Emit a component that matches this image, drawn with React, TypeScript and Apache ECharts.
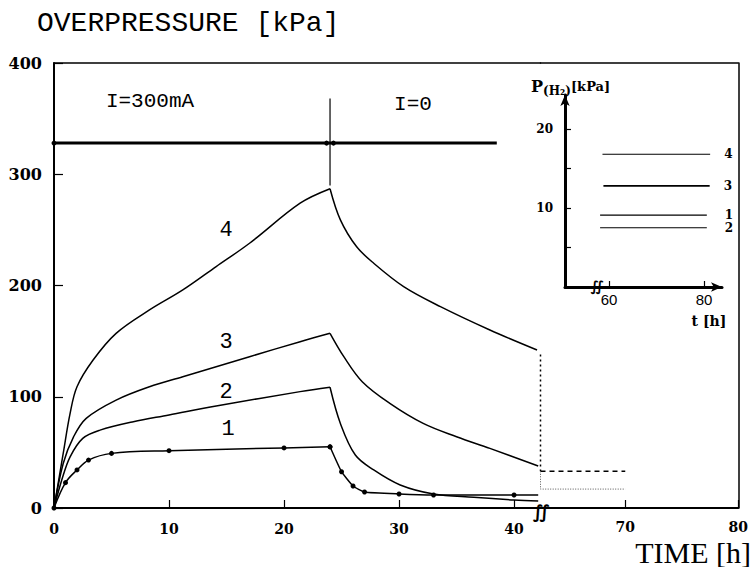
import React, { useEffect, useRef } from "react";
import * as echarts from "echarts";

// ---- data ----
const mainTicks = [0, 10, 20, 30, 40];
const farTicks = [70, 80];
const insetXTicks = [60, 80];
const insetYTicks = [5, 10, 15, 20];
const insetYLabels = [10, 20];

const curve1Rise: [number, number][] = [[0, 0], [1, 22.8], [2, 34.2], [3, 43.1], [5, 49.1], [10, 51.5], [20, 54], [24, 55]];
const curve1Decay: [number, number][] = [[24, 55], [25, 32.6], [26, 19.8], [27, 14.4], [30, 12.6], [33, 11.7], [40, 11.7], [42.1, 11.7]];

const curve2Rise: [number, number][] = [[0, 0], [0.7, 26], [1.4, 46], [2.5, 62.6], [4, 70], [6.9, 77.6], [10, 83.6], [14.1, 91.7], [21.4, 104.6], [24, 108.5]];
const curve2Decay: [number, number][] = [[24, 108.5], [24.9, 76], [26.2, 47.6], [27.8, 34.2], [30.1, 20.7], [33, 12.6], [36.5, 9.6], [40, 7.2], [42.1, 6.3]];

const curve3Rise: [number, number][] = [[0, 0], [0.8, 40], [1.7, 64], [2.8, 80.6], [5.4, 97], [8.3, 109], [11.2, 118], [14.1, 127], [17, 136], [21.4, 149.5], [24, 157]];
const curve3Decay: [number, number][] = [[24, 157], [25.2, 136], [26.8, 113.5], [29.2, 94], [32.1, 76], [35, 64], [37.9, 53.6], [42.1, 37.8]];

const curve4Rise: [number, number][] = [[0, 0], [0.8, 49], [1.4, 85], [2, 109], [3.4, 133], [5.4, 157], [8.3, 178], [11.2, 196], [14.1, 217], [17, 238], [21.4, 274], [24, 287]];
const curve4Decay: [number, number][] = [[24, 287], [24.9, 259], [26.3, 235], [27.8, 220], [30.4, 199], [33.6, 181], [37.9, 160], [42, 142]];

const currentBar: [number, number][] = [[0, 328], [23.7, 328], [24.3, 328], [38.5, 328]];
const switchLine: [number, number][] = [[24, 290], [24, 368]];

const dropLine: [number, number][] = [[62.5, 138], [62.5, 33]];
const longTermDashed: [number, number][] = [[62.5, 33], [70, 33]];
const longTermDotted: [number, number][] = [[62.5, 33], [62.5, 17], [70, 17]];

const inset4: [number, number][] = [[58.6, 16.8], [81.3, 16.8]];
const inset3: [number, number][] = [[58.8, 12.8], [81.2, 12.8]];
const inset1: [number, number][] = [[58.1, 9.1], [80.6, 9.1]];
const inset2: [number, number][] = [[58.1, 7.5], [80.6, 7.5]];

const BLACK = "#000";
const tickFont = { fontFamily: "DejaVu Serif", fontWeight: "bold" as const, fontSize: 14, color: BLACK };
const insetLabelFont = { fontFamily: "DejaVu Serif", fontWeight: "bold" as const, fontSize: 12, color: BLACK };

function line(data: [number, number][], xi: number, yi: number, extra: any = {}) {
  return {
    type: "line",
    xAxisIndex: xi,
    yAxisIndex: yi,
    data,
    symbol: "none",
    smooth: 0.35,
    lineStyle: { color: BLACK, width: 1.5 },
    silent: true,
    ...extra,
  };
}

export default function App() {
  const ref = useRef<HTMLDivElement>(null);
  useEffect(() => {
    if (!ref.current) return;
    const chart = echarts.init(ref.current, undefined, { renderer: "svg" });
    const dotStyle = { symbol: "circle", symbolSize: 5, itemStyle: { color: BLACK } };
    chart.setOption({
      animation: false,
      backgroundColor: "#fff",
      title: {
        text: "OVERPRESSURE [kPa]",
        left: 37,
        top: 9,
        padding: 0,
        textStyle: { fontFamily: "Liberation Mono", fontSize: 28, fontWeight: "normal", color: BLACK },
      },
      grid: [
        { left: 54, top: 63, width: 486.5, height: 445 },
        { left: 540.5, top: 63, width: 201.5, height: 445 },
        { left: 565, top: 95, width: 157, height: 192 },
      ],
      xAxis: [
        {
          gridIndex: 0, type: "value", min: 0, max: 42.3, position: "bottom",
          axisLine: { lineStyle: { color: BLACK, width: 2 } },
          axisTick: { inside: true, length: 8, customValues: mainTicks, lineStyle: { color: BLACK, width: 1.2 } },
          axisLabel: { customValues: mainTicks, margin: 14, ...tickFont },
          splitLine: { show: false },
        },
        {
          gridIndex: 0, type: "value", min: 0, max: 42.3, position: "top",
          axisLine: { lineStyle: { color: BLACK, width: 1.5 } },
          axisTick: { show: false }, axisLabel: { show: false }, splitLine: { show: false },
        },
        {
          gridIndex: 1, type: "value", min: 62.5, max: 80, position: "bottom",
          axisLine: { lineStyle: { color: BLACK, width: 2 } },
          axisTick: { inside: true, length: 8, customValues: farTicks, lineStyle: { color: BLACK, width: 1.2 } },
          axisLabel: { customValues: farTicks, margin: 12, ...tickFont },
          splitLine: { show: false },
        },
        {
          gridIndex: 1, type: "value", min: 62.5, max: 80, position: "top",
          axisLine: { lineStyle: { color: BLACK, width: 1.5 } },
          axisTick: { show: false }, axisLabel: { show: false }, splitLine: { show: false },
        },
        {
          gridIndex: 2, type: "value", min: 50.7, max: 83.8, position: "bottom",
          axisLine: { symbol: ["none", "arrow"], symbolSize: [7, 11], lineStyle: { color: BLACK, width: 3 } },
          axisTick: { inside: true, length: 6, customValues: insetXTicks, lineStyle: { color: BLACK, width: 1.2 } },
          axisLabel: { customValues: insetXTicks, margin: 5, fontFamily: "Liberation Sans", fontSize: 15, color: BLACK },
          splitLine: { show: false },
        },
      ],
      yAxis: [
        {
          gridIndex: 0, type: "value", min: 0, max: 400, interval: 100,
          axisLine: { show: true, lineStyle: { color: BLACK, width: 2 } },
          axisTick: { show: true, inside: true, length: 9, lineStyle: { color: BLACK, width: 1.2 } },
          axisLabel: { margin: 12, ...tickFont, fontSize: 16 },
          splitLine: { show: false },
        },
        {
          gridIndex: 1, type: "value", min: 0, max: 400, position: "right",
          axisLine: { show: true, lineStyle: { color: BLACK, width: 1.5 } },
          axisTick: { show: false }, axisLabel: { show: false }, splitLine: { show: false },
        },
        {
          gridIndex: 2, type: "value", min: 0, max: 24.3,
          axisLine: { show: true, symbol: ["none", "arrow"], symbolSize: [7, 11], lineStyle: { color: BLACK, width: 3 } },
          axisTick: { show: true, inside: true, length: 6, customValues: insetYTicks, lineStyle: { color: BLACK, width: 1.2 } },
          axisLabel: { customValues: insetYLabels, margin: 12, ...insetLabelFont },
          splitLine: { show: false },
        },
      ],
      series: [
        line(curve1Rise, 0, 0, dotStyle),
        line(curve1Decay, 0, 0, { ...dotStyle, smooth: 0.15, data: curve1Decay.map((p, i) => (i === curve1Decay.length - 1 ? { value: p, symbol: "none" } : p)) }),
        line(curve2Rise, 0, 0),
        line(curve2Decay, 0, 0),
        line(curve3Rise, 0, 0),
        line(curve3Decay, 0, 0),
        line(curve4Rise, 0, 0),
        line(curve4Decay, 0, 0),
        line(currentBar, 0, 0, {
          smooth: false,
          lineStyle: { color: BLACK, width: 3 },
          data: currentBar.map((p, i) => (i === currentBar.length - 1 ? { value: p, symbol: "none" } : p)),
          symbol: "circle", symbolSize: 5, itemStyle: { color: BLACK },
        }),
        line(switchLine, 0, 0, { smooth: false, lineStyle: { color: BLACK, width: 1.2 } }),
        line(dropLine, 2, 1, { smooth: false, lineStyle: { color: BLACK, width: 1.5, type: [2, 3] } }),
        line(longTermDashed, 2, 1, { smooth: false, lineStyle: { color: BLACK, width: 1.5, type: [5, 4] } }),
        line(longTermDotted, 2, 1, { smooth: false, lineStyle: { color: "#555", width: 1, type: [1, 1.5] } }),
        line(inset4, 4, 2, { smooth: false, lineStyle: { color: BLACK, width: 1.2 }, endLabel: { show: true, formatter: "4", distance: 14, ...insetLabelFont } }),
        line(inset3, 4, 2, { smooth: false, lineStyle: { color: BLACK, width: 1.6 }, endLabel: { show: true, formatter: "3", distance: 14, ...insetLabelFont } }),
        line(inset1, 4, 2, { smooth: false, lineStyle: { color: BLACK, width: 1.4 }, endLabel: { show: true, formatter: "1", distance: 18, ...insetLabelFont } }),
        line(inset2, 4, 2, { smooth: false, lineStyle: { color: BLACK, width: 1.2 }, endLabel: { show: true, formatter: "2", distance: 18, ...insetLabelFont } }),
      ],
      graphic: [
        { type: "text", x: 150, y: 101, style: { text: "I=300mA", font: "21px 'Liberation Mono'", fill: BLACK, align: "center", verticalAlign: "middle" } },
        { type: "text", x: 413, y: 104, style: { text: "I=0", font: "21px 'Liberation Mono'", fill: BLACK, align: "center", verticalAlign: "middle" } },
        { type: "text", x: 226, y: 230, style: { text: "4", font: "22px 'Liberation Mono'", fill: BLACK, align: "center", verticalAlign: "middle" } },
        { type: "text", x: 226, y: 342, style: { text: "3", font: "22px 'Liberation Mono'", fill: BLACK, align: "center", verticalAlign: "middle" } },
        { type: "text", x: 226, y: 392, style: { text: "2", font: "22px 'Liberation Mono'", fill: BLACK, align: "center", verticalAlign: "middle" } },
        { type: "text", x: 228, y: 429, style: { text: "1", font: "22px 'Liberation Mono'", fill: BLACK, align: "center", verticalAlign: "middle" } },
        { type: "text", x: 751, y: 552, style: { text: "TIME [h]", font: "30px 'Liberation Serif'", fill: BLACK, align: "right", verticalAlign: "middle" } },
        { type: "text", x: 541, y: 511, style: { text: "∬", font: "bold 18px 'DejaVu Sans'", fill: BLACK, align: "center", verticalAlign: "middle", backgroundColor: "#fff" } },
        { type: "text", x: 597, y: 286, style: { text: "∬", font: "bold 14px 'DejaVu Sans'", fill: BLACK, align: "center", verticalAlign: "middle" } },
        {
          type: "text", x: 531, y: 86,
          style: {
            text: "{a|P}{b|(H₂)}{c|[kPa]}",
            fill: BLACK, align: "left", verticalAlign: "middle",
            rich: {
              a: { fontFamily: "DejaVu Serif", fontSize: 16, fontWeight: "bold", fill: BLACK },
              b: { fontFamily: "DejaVu Serif", fontSize: 12, fontWeight: "bold", fill: BLACK, padding: [9, 0, 0, 0] },
              c: { fontFamily: "DejaVu Serif", fontSize: 13, fontWeight: "bold", fill: BLACK },
            },
          },
        },
        { type: "text", x: 709, y: 321, style: { text: "t [h]", font: "bold 14px 'DejaVu Serif'", fill: BLACK, align: "center", verticalAlign: "middle" } },
      ],
    });
    return () => chart.dispose();
  }, []);
  return <div ref={ref} style={{ position: "absolute", left: 0, top: 0, width: 751, height: 567 }} />;
}
